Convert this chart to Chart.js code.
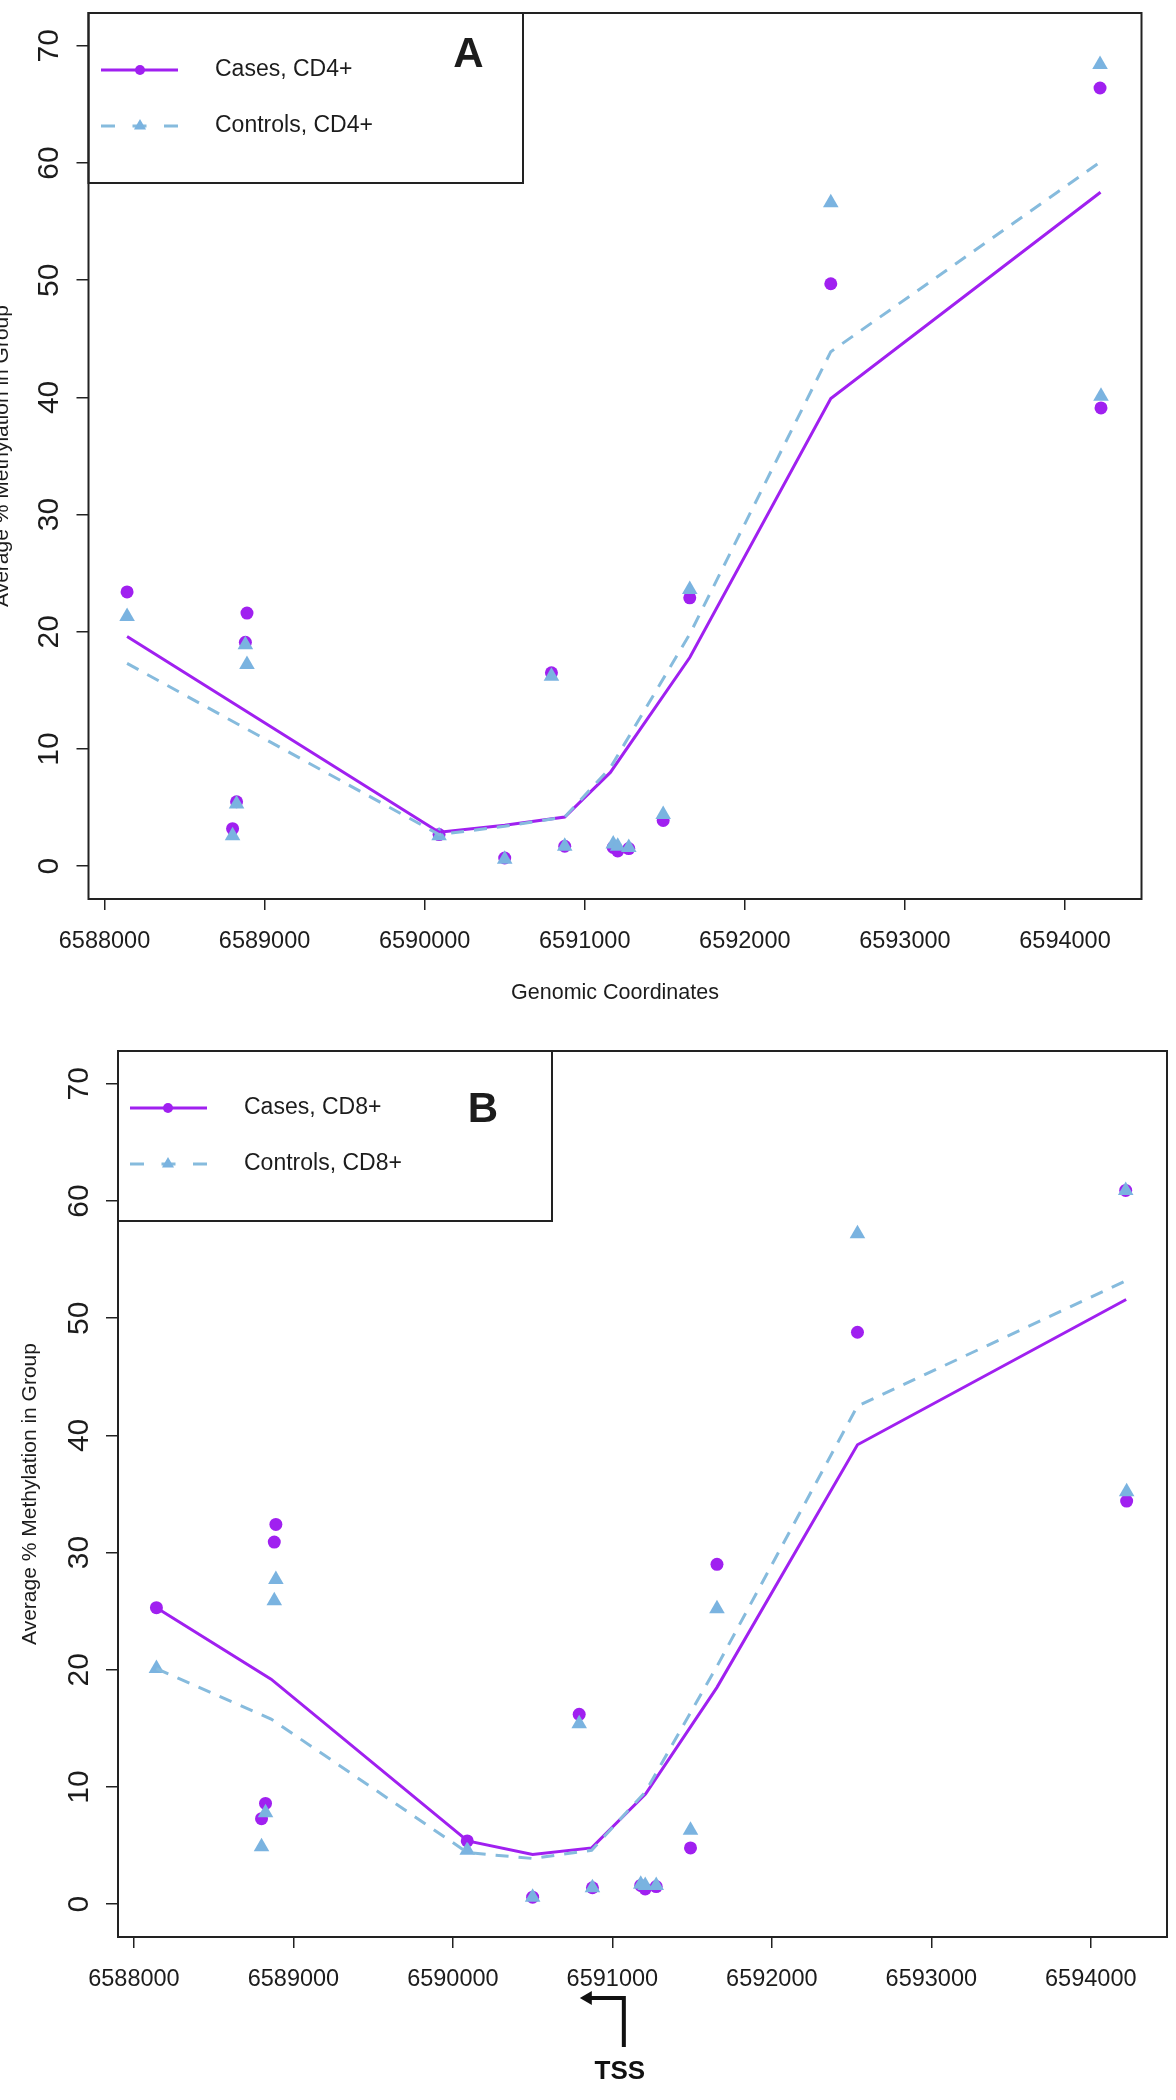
<!DOCTYPE html>
<html>
<head>
<meta charset="utf-8">
<script src="https://cdn.jsdelivr.net/npm/chart.js@4.4.1/dist/chart.umd.min.js"></script>
<style>
html, body { margin: 0; padding: 0; background: #fff; }
body { width: 1176px; height: 2100px; position: relative; overflow: hidden; }
canvas { position: absolute; left: 0; }
#chartA { top: 0; }
#chartB { top: 1038px; }
</style>
</head>
<body>
<canvas id="chartA" width="1176" height="1030"></canvas>
<canvas id="chartB" width="1176" height="1062"></canvas>
<script>
// CpG site positions, same sites in both panels
const siteCoords = [6588141, 6588800, 6588825, 6588880, 6588890, 6590090, 6590500, 6590792, 6590875,
                    6591178, 6591206, 6591275, 6591490, 6591656, 6592537, 6594219, 6594225];

// panel A (CD4+) average % methylation per site
const casesCD4    = [23.4, 3.2, 5.5, 19.1, 21.6, 2.7, 0.7, 16.5, 1.7, 1.6, 1.3, 1.5, 3.9, 22.9, 49.7, 66.4, 39.1];
const controlsCD4 = [21.3, 2.6, 5.3, 18.9, 17.2, 2.6, 0.6, 16.2, 1.7, 1.9, 1.7, 1.6, 4.4, 23.6, 56.6, 68.4, 40.1];

// panel B (CD8+)
const casesCD8    = [25.3, 7.3, 8.6, 30.9, 32.4, 5.4, 0.6, 16.2, 1.4, 1.6, 1.3, 1.5, 4.8, 29.0, 48.8, 60.9, 34.4];
const controlsCD8 = [20.1, 4.9, 7.8, 25.9, 27.7, 4.6, 0.6, 15.4, 1.4, 1.7, 1.6, 1.6, 6.3, 25.2, 57.2, 60.9, 35.2];

// smoothed curves (vertices)
const fitCoordsA     = [6588141, 6590090, 6590500, 6590875, 6591160, 6591656, 6592537, 6594222];
const fitCasesCD4    = [19.6, 2.9, 3.5, 4.2, 8.0, 17.8, 39.9, 57.5];
const fitControlsCD4 = [17.3, 2.7, 3.4, 4.2, 8.4, 19.8, 43.9, 60.1];

const fitCoordsB     = [6588141, 6588860, 6590092, 6590500, 6590870, 6591208, 6591656, 6592537, 6594222];
const fitCasesCD8    = [25.3, 19.2, 5.4, 4.25, 4.8, 9.4, 18.5, 39.2, 51.6];
const fitControlsCD8 = [20.1, 15.8, 4.4, 3.9, 4.6, 9.6, 20.3, 42.5, 53.2];

const xTicks = [6588000, 6589000, 6590000, 6591000, 6592000, 6593000, 6594000];
const yTicks = [0, 10, 20, 30, 40, 50, 60, 70];
const xRange = [6587900, 6594478];
const yRange = [-2.8, 72.8];
const tssCoord = 6591072;

const purple = '#A020F0';
const skyTri = '#7AB3E0';
const skyLine = '#86BBDD';
const ink = '#1c1c1c';
const fontReg = "'Liberation Sans', Arial, sans-serif";

function pts(xs, ys) {
    return xs.map((x, i) => ({x: x, y: ys[i]}));
}

function drawMarker(ctx, style, x, y, r, color) {
    ctx.fillStyle = color;
    ctx.beginPath();
    if (style == 'circle') {
        ctx.arc(x, y, r, 0, Math.PI * 2);
    } else {
        ctx.moveTo(x, y - r);
        ctx.lineTo(x + r * 0.866, y + r / 2);
        ctx.lineTo(x - r * 0.866, y + r / 2);
        ctx.closePath();
    }
    ctx.fill();
}

// box round the plot, legend, panel letter, TSS arrow
const rFrame = {
    id: 'rFrame',
    afterDraw(chart, args, o) {
        const ctx = chart.ctx;
        const a = chart.chartArea;
        ctx.save();
        const L = o.legend;
        ctx.fillStyle = '#fff';
        ctx.fillRect(a.left, a.top, L.w, L.h);

        // cases sample
        ctx.strokeStyle = purple;
        ctx.lineWidth = 3;
        ctx.setLineDash([]);
        ctx.beginPath();
        ctx.moveTo(a.left + L.x0, a.top + L.y1);
        ctx.lineTo(a.left + L.x1, a.top + L.y1);
        ctx.stroke();
        drawMarker(ctx, 'circle', a.left + L.xm, a.top + L.y1, 5, purple);
        // controls sample
        ctx.strokeStyle = skyLine;
        ctx.setLineDash([14, 17.5]);
        ctx.beginPath();
        ctx.moveTo(a.left + L.x0, a.top + L.y2);
        ctx.lineTo(a.left + L.x1, a.top + L.y2);
        ctx.stroke();
        ctx.setLineDash([]);
        drawMarker(ctx, 'triangle', a.left + L.xm, a.top + L.y2, 7, skyTri);

        ctx.fillStyle = ink;
        ctx.font = '23px ' + fontReg;
        ctx.textAlign = 'left';
        ctx.textBaseline = 'middle';
        ctx.fillText(L.labels[0], a.left + L.xt, a.top + L.y1);
        ctx.fillText(L.labels[1], a.left + L.xt, a.top + L.y2);

        ctx.font = 'bold 42px ' + fontReg;
        ctx.textAlign = 'center';
        ctx.fillText(o.letter.text, a.left + o.letter.x, a.top + o.letter.y);

        ctx.strokeStyle = '#222';
        ctx.lineWidth = 2;
        ctx.strokeRect(a.left, a.top, L.w, L.h);
        ctx.strokeRect(a.left, a.top, a.right - a.left, a.bottom - a.top);

        if (o.tss) {
            const px = chart.scales.x.getPixelForValue(o.tss.value);
            const y0 = a.bottom + o.tss.top;
            ctx.strokeStyle = '#111';
            ctx.lineWidth = 4;
            ctx.beginPath();
            ctx.moveTo(px, a.bottom + o.tss.bottom);
            ctx.lineTo(px, y0);
            ctx.lineTo(px - o.tss.len + 8, y0);
            ctx.stroke();
            ctx.fillStyle = '#111';
            ctx.beginPath();
            ctx.moveTo(px - o.tss.len, y0);
            ctx.lineTo(px - o.tss.len + 12, y0 - 7);
            ctx.lineTo(px - o.tss.len + 12, y0 + 7);
            ctx.closePath();
            ctx.fill();
            ctx.font = 'bold 26px ' + fontReg;
            ctx.textAlign = 'center';
            ctx.fillText('TSS', px - 4, a.bottom + o.tss.textY);
        }
        ctx.restore();
    }
};

function makePanel(id, p) {
    const ctx = document.getElementById(id);
    return new Chart(ctx, {
        type: 'scatter',
        data: {
            datasets: [
                {
                    label: p.labels[1] + ' fit',
                    data: pts(p.fitX, p.fitControls),
                    showLine: true,
                    borderColor: skyLine,
                    borderWidth: 3,
                    borderDash: [13, 10],
                    pointRadius: 0,
                    order: 0
                },
                {
                    label: p.labels[0] + ' fit',
                    data: pts(p.fitX, p.fitCases),
                    showLine: true,
                    borderColor: purple,
                    borderWidth: 3,
                    pointRadius: 0,
                    order: 1
                },
                {
                    label: p.labels[1],
                    data: pts(siteCoords, p.controls),
                    pointStyle: 'triangle',
                    pointRadius: 9,
                    pointBorderWidth: 0,
                    backgroundColor: skyTri,
                    order: 2
                },
                {
                    label: p.labels[0],
                    data: pts(siteCoords, p.cases),
                    pointStyle: 'circle',
                    pointRadius: 6.5,
                    pointBorderWidth: 0,
                    backgroundColor: purple,
                    order: 3
                }
            ]
        },
        options: {
            responsive: false,
            animation: false,
            devicePixelRatio: 1,
            layout: {padding: {top: 13, right: p.padRight, bottom: 0, left: 0}},
            plugins: {
                legend: {display: false},
                tooltip: {enabled: false},
                rFrame: {legend: p.legend, letter: p.letter, tss: p.tss}
            },
            scales: {
                x: {
                    type: 'linear',
                    min: xRange[0],
                    max: xRange[1],
                    afterBuildTicks: s => { s.ticks = xTicks.map(v => ({value: v})); },
                    afterFit: s => { s.height = p.xHeight; s.paddingLeft = 0; s.paddingRight = 0; },
                    grid: {drawOnChartArea: false, drawTicks: true, tickLength: 11, color: '#222', lineWidth: 1.5},
                    border: {display: false},
                    ticks: {
                        autoSkip: false, maxRotation: 0, minRotation: 0, padding: 17,
                        color: ink,
                        font: {family: fontReg, size: 23.5},
                        callback: v => String(v)
                    },
                    title: {
                        display: !!p.xTitle,
                        text: p.xTitle || '',
                        color: ink,
                        font: {family: fontReg, size: 21.5},
                        padding: {top: 0, bottom: 24}
                    }
                },
                y: {
                    type: 'linear',
                    min: yRange[0],
                    max: yRange[1],
                    afterBuildTicks: s => { s.ticks = yTicks.map(v => ({value: v})); },
                    afterFit: s => { s.width = p.yWidth; s.paddingTop = 0; s.paddingBottom = 0; },
                    grid: {drawOnChartArea: false, drawTicks: true, tickLength: 12, color: '#222', lineWidth: 1.5},
                    border: {display: false},
                    ticks: {
                        autoSkip: false, minRotation: 90, maxRotation: 90, crossAlign: 'center', padding: 10,
                        color: ink,
                        font: {family: fontReg, size: 30},
                        callback: v => String(v)
                    },
                    title: {
                        display: true,
                        text: 'Average % Methylation in Group',
                        color: ink,
                        font: {family: fontReg, size: 21},
                        padding: {top: p.yTitlePad, bottom: 0}
                    }
                }
            }
        },
        plugins: [rFrame]
    });
}

makePanel('chartA', {
    cases: casesCD4, controls: controlsCD4,
    fitX: fitCoordsA, fitCases: fitCasesCD4, fitControls: fitControlsCD4,
    labels: ['Cases, CD4+', 'Controls, CD4+'],
    padRight: 34.5, xHeight: 131, yWidth: 88.5, yTitlePad: -10.6,
    xTitle: 'Genomic Coordinates',
    legend: {w: 434.5, h: 170, x0: 12.5, x1: 89.5, xm: 51.5, xt: 126.5, y1: 57, y2: 113,
             labels: ['Cases, CD4+', 'Controls, CD4+']},
    letter: {text: 'A', x: 380, y: 42}
});

makePanel('chartB', {
    cases: casesCD8, controls: controlsCD8,
    fitX: fitCoordsB, fitCases: fitCasesCD8, fitControls: fitControlsCD8,
    labels: ['Cases, CD8+', 'Controls, CD8+'],
    padRight: 6, xHeight: 163, yWidth: 118, yTitlePad: 17.4,
    xTitle: null,
    legend: {w: 434, h: 170, x0: 12, x1: 89, xm: 50, xt: 126, y1: 57, y2: 113,
             labels: ['Cases, CD8+', 'Controls, CD8+']},
    letter: {text: 'B', x: 365, y: 59},
    tss: {value: tssCoord, top: 61, bottom: 110, len: 44, textY: 135}
});
</script>
</body>
</html>
